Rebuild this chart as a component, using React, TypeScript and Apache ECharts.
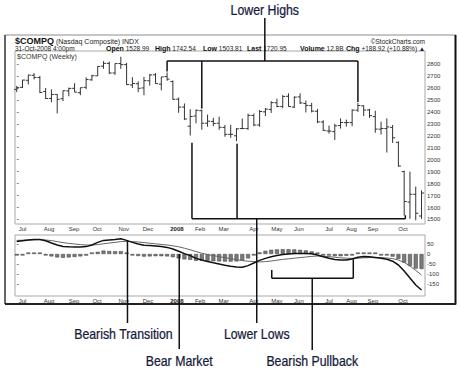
import React, { useEffect, useRef } from "react";
import * as echarts from "echarts";

// ---- Data (weekly bars, Nasdaq Composite, Jun 29 2007 - Oct 31 2008) ----
const weeks = [
  "2007-06-29", "2007-07-06", "2007-07-13", "2007-07-20", "2007-07-27",
  "2007-08-03", "2007-08-10", "2007-08-17", "2007-08-24", "2007-08-31",
  "2007-09-07", "2007-09-14", "2007-09-21", "2007-09-28",
  "2007-10-05", "2007-10-12", "2007-10-19", "2007-10-26",
  "2007-11-02", "2007-11-09", "2007-11-16", "2007-11-23", "2007-11-30",
  "2007-12-07", "2007-12-14", "2007-12-21", "2007-12-28",
  "2008-01-04", "2008-01-11", "2008-01-18", "2008-01-25",
  "2008-02-01", "2008-02-08", "2008-02-15", "2008-02-22", "2008-02-29",
  "2008-03-07", "2008-03-14", "2008-03-20", "2008-03-28",
  "2008-04-04", "2008-04-11", "2008-04-18", "2008-04-25",
  "2008-05-02", "2008-05-09", "2008-05-16", "2008-05-23", "2008-05-30",
  "2008-06-06", "2008-06-13", "2008-06-20", "2008-06-27",
  "2008-07-03", "2008-07-11", "2008-07-18", "2008-07-25",
  "2008-08-01", "2008-08-08", "2008-08-15", "2008-08-22", "2008-08-29",
  "2008-09-05", "2008-09-12", "2008-09-19", "2008-09-26",
  "2008-10-03", "2008-10-10", "2008-10-17", "2008-10-24", "2008-10-31",
];
const openP = [
  2588, 2605, 2664, 2706, 2687, 2570, 2512, 2546, 2510, 2575, 2597, 2560, 2605, 2668,
  2701, 2782, 2805, 2725, 2804, 2795, 2625, 2635, 2600, 2660, 2710, 2632, 2695,
  2653, 2506, 2440, 2280, 2365, 2410, 2305, 2320, 2305, 2270, 2212, 2200, 2260,
  2260, 2370, 2290, 2400, 2420, 2476, 2445, 2530, 2440, 2525, 2470, 2452, 2405,
  2315, 2240, 2235, 2285, 2310, 2310, 2414, 2450, 2416, 2360, 2255, 2260, 2270,
  2145, 1900, 1645, 1710, 1529,
];
const highP = [
  2617, 2668, 2711, 2724, 2701, 2600, 2588, 2548, 2577, 2603, 2640, 2602, 2689, 2710,
  2782, 2824, 2820, 2805, 2861, 2810, 2690, 2655, 2692, 2716, 2724, 2692, 2730,
  2663, 2520, 2470, 2422, 2420, 2420, 2377, 2350, 2360, 2290, 2292, 2265, 2344,
  2385, 2385, 2415, 2432, 2490, 2510, 2540, 2555, 2530, 2555, 2495, 2475, 2425,
  2330, 2285, 2300, 2346, 2335, 2420, 2475, 2455, 2425, 2410, 2318, 2346, 2290,
  2152, 1908, 1900, 1775, 1743,
];
const lowP = [
  2565, 2600, 2629, 2671, 2558, 2508, 2480, 2387, 2490, 2530, 2565, 2540, 2590, 2660,
  2700, 2760, 2715, 2710, 2760, 2625, 2600, 2565, 2539, 2620, 2635, 2580, 2660,
  2502, 2392, 2333, 2202, 2305, 2250, 2275, 2280, 2250, 2192, 2183, 2155, 2255,
  2250, 2280, 2275, 2365, 2391, 2438, 2430, 2444, 2432, 2465, 2395, 2395, 2305,
  2240, 2218, 2165, 2260, 2276, 2280, 2400, 2365, 2350, 2225, 2210, 2060, 2140,
  1941, 1532, 1505, 1493, 1504,
];
const closeP = [
  2603, 2666, 2707, 2688, 2562, 2511, 2545, 2505, 2577, 2596, 2565, 2602, 2671, 2702,
  2780, 2806, 2725, 2804, 2795, 2628, 2637, 2597, 2661, 2709, 2636, 2692, 2674,
  2505, 2440, 2340, 2361, 2413, 2305, 2322, 2303, 2271, 2212, 2212, 2258, 2261,
  2371, 2290, 2403, 2423, 2477, 2445, 2529, 2445, 2523, 2475, 2454, 2406, 2316,
  2245, 2239, 2283, 2311, 2311, 2414, 2453, 2415, 2368, 2256, 2261, 2274, 2183,
  1947, 1650, 1711, 1552, 1721,
];
const macdLine = [
  62, 66, 70, 73, 72, 66, 55, 45, 38, 36, 35, 35, 37, 45,
  58, 68, 70, 72, 76, 68, 58, 50, 44, 42, 40, 37, 33,
  25, 14, 2, -8, -22, -30, -37, -44, -50, -56, -61, -65, -66,
  -58, -45, -32, -22, -14, -8, -3, 0, 2, 3, 3, 1, -5,
  -14, -21, -27, -30, -30, -25, -16, -12, -14, -17, -21, -26, -36,
  -55, -85, -120, -155, -180,
];
const signalLine = [
  68, 69, 70, 71, 72, 70, 67, 62, 57, 53, 50, 47, 45, 45,
  47, 51, 55, 58, 62, 63, 62, 60, 57, 54, 51, 48, 45,
  41, 36, 29, 21, 12, 4, -3, -8, -13, -18, -23, -28, -33,
  -36, -38, -40, -38, -35, -31, -27, -24, -21, -18, -15, -12, -10,
  -11, -13, -16, -19, -21, -22, -21, -19, -18, -18, -18, -20, -23,
  -30, -42, -60, -82, -105,
];
const histogram = [
  -6, -3, 0, 2, 0, -4, -12, -17, -19, -17, -15, -12, -8, 0,
  11, 17, 15, 14, 14, 5, -4, -10, -13, -12, -11, -11, -12,
  -16, -22, -27, -29, -34, -34, -34, -36, -37, -38, -38, -37, -33,
  -22, -7, 8, 16, 21, 23, 24, 24, 23, 21, 18, 13, 5,
  -3, -8, -11, -11, -9, -3, 5, 7, 4, 1, -3, -6, -13,
  -25, -43, -60, -73, -75,
];
const monthLabels = ["Jul", "Aug", "Sep", "Oct", "Nov", "Dec", "2008", "Feb", "Mar", "Apr", "May", "Jun", "Jul", "Aug", "Sep", "Oct"];
const monthTickWeeks = [1, 5.6, 9.9, 13.9, 18.5, 22.7, 27.7, 31.7, 35.8, 41, 45, 48.8, 54, 57.9, 61.6, 66.8];
const priceTicks = [1500, 1600, 1700, 1800, 1900, 2000, 2100, 2200, 2300, 2400, 2500, 2600, 2700, 2800];
const macdTicks = [-150, -100, -50, 0, 50];
const quote = [
  ["Open", "1528.99"], ["High", "1742.54"], ["Low", "1503.81"],
  ["Last", "1720.95"], ["Volume", "12.8B"], ["Chg", "+188.92 (+10.88%) \u25B2"],
];

const FONT = "'Liberation Sans', Arial, sans-serif";
const ANN = "#161a3c";

export default function App() {
  const ref = useRef<HTMLDivElement>(null);

  useEffect(() => {
    const chart = echarts.init(ref.current as HTMLDivElement, null, { renderer: "svg" });

    const ohlc = weeks.map((_, i) => [i, openP[i], highP[i], lowP[i], closeP[i]]);
    const monthFmt = (v: number) => {
      const k = monthTickWeeks.findIndex((m) => Math.abs(m - v) < 1e-6);
      const s = k >= 0 ? monthLabels[k] : "";
      return s === "2008" ? "{b|2008}" : s;
    };
    const xAxisCommon = {
      type: "value" as const,
      min: -0.3,
      max: 70.6,
      axisLine: { show: false },
      axisTick: { show: false },
      splitLine: { show: false },
      axisLabel: {
        customValues: monthTickWeeks,
        formatter: monthFmt,
        fontSize: 6,
        color: "#333",
        margin: 2,
        rich: { b: { fontWeight: "bold", fontSize: 6, color: "#222" } },
      },
    };
    const barStyle = { stroke: "#333", lineWidth: 1 };
    const plain = (v: number) => String(v);

    chart.setOption({
      animation: false,
      textStyle: { fontFamily: FONT },
      grid: [
        { left: 15, top: 51, width: 410, height: 173, show: true, borderColor: "#a8a8a8", borderWidth: 1 },
        { left: 15, top: 235, width: 410, height: 61, show: true, borderColor: "#a8a8a8", borderWidth: 1 },
      ],
      xAxis: [
        { ...xAxisCommon, gridIndex: 0 },
        { ...xAxisCommon, gridIndex: 1 },
      ],
      yAxis: [
        {
          gridIndex: 0, type: "value", position: "right", min: 1462, max: 2909,
          axisLine: { show: false }, splitLine: { show: false },
          axisTick: { show: true, customValues: priceTicks, length: 2, lineStyle: { color: "#888" } },
          axisLabel: { customValues: priceTicks, formatter: plain, fontSize: 6, color: "#333", margin: 2 },
        },
        {
          gridIndex: 1, type: "value", position: "right", min: -210, max: 95,
          axisLine: { show: false }, splitLine: { show: false },
          axisTick: { show: true, customValues: macdTicks, length: 2, lineStyle: { color: "#888" } },
          axisLabel: { customValues: macdTicks, formatter: plain, fontSize: 6, color: "#333", margin: 2 },
        },
      ],
      series: [
        {
          type: "custom",
          name: "$COMPQ",
          xAxisIndex: 0,
          yAxisIndex: 0,
          encode: { x: 0, y: [1, 2, 3, 4] },
          data: ohlc,
          renderItem: (_params: any, api: any) => {
            const i = api.value(0);
            const o = api.coord([i, api.value(1)]);
            const h = api.coord([i, api.value(2)]);
            const l = api.coord([i, api.value(3)]);
            const c = api.coord([i, api.value(4)]);
            return {
              type: "group",
              children: [
                { type: "line", shape: { x1: h[0], y1: h[1], x2: l[0], y2: l[1] }, style: barStyle },
                { type: "line", shape: { x1: o[0] - 2.5, y1: o[1], x2: o[0], y2: o[1] }, style: barStyle },
                { type: "line", shape: { x1: c[0], y1: c[1], x2: c[0] + 2.5, y2: c[1] }, style: barStyle },
              ],
            };
          },
        },
        {
          type: "bar",
          name: "Histogram",
          xAxisIndex: 1,
          yAxisIndex: 1,
          barWidth: 4,
          barMinHeight: 1.5,
          data: histogram.map((v, i) => [i, v]),
          itemStyle: { color: "#7a7a7a", borderColor: "#3c3c3c", borderWidth: 0.5 },
        },
        {
          type: "line",
          name: "Signal",
          xAxisIndex: 1,
          yAxisIndex: 1,
          showSymbol: false,
          data: signalLine.map((v, i) => [i, v]),
          lineStyle: { color: "#666", width: 1 },
        },
        {
          type: "line",
          name: "MACD",
          xAxisIndex: 1,
          yAxisIndex: 1,
          showSymbol: false,
          data: macdLine.map((v, i) => [i, v]),
          lineStyle: { color: "#111", width: 1.5 },
        },
      ],
    });

    const p0 = (i: number, v: number) => chart.convertToPixel({ gridIndex: 0 }, [i, v]) as number[];
    const p1 = (i: number, v: number) => chart.convertToPixel({ gridIndex: 1 }, [i, v]) as number[];
    const ln = (x1: number, y1: number, x2: number, y2: number, stroke = "#111", lineWidth = 1.5) => ({
      type: "line", shape: { x1, y1, x2, y2 }, style: { stroke, lineWidth }, z: 100,
    });
    const ann = (text: string, x: number, y: number) => ({
      type: "text", x, y, z: 100, scaleX: 0.88,
      style: {
        x: 0, y: 0, text, fill: ANN, fontSize: 14, fontFamily: FONT,
        align: "center", verticalAlign: "middle", stroke: ANN, lineWidth: 0.25,
      },
    });
    const small = (text: string, x: number, y: number, extra: any = {}) => ({
      type: "text", x, y, z: 100,
      style: { text, fill: "#222", fontSize: 7, fontFamily: FONT, verticalAlign: "middle", ...extra },
    });

    const g: any[] = [];
    // outer frame
    g.push(ln(5, 35, 456, 35, "#8c8c8c", 1));
    g.push(ln(5, 35, 5, 304, "#333", 1.5));
    g.push(ln(455.5, 35, 455.5, 304.5, "#111", 2));
    g.push(ln(5, 304, 456, 304, "#222", 2));

    // header
    g.push(small("{t|$COMPQ} (Nasdaq Composite) INDX", 15, 41, {
      rich: { t: { fontSize: 9, fontWeight: "bold", fill: "#111", fontFamily: FONT } },
    }));
    g.push(small("31-Oct-2008 4:00pm", 15, 48.5, { fontSize: 6.5 }));
    g.push(small("\u00A9StockCharts.com", 425, 41, { align: "right", fontSize: 6.5 }));
    const qx = [106, 155, 203, 247, 300, 346];
    quote.forEach(([k, v], j) => {
      g.push(small(`{b|${k}} ${v}`, qx[j], 48.5, {
        fontSize: 6.5,
        rich: { b: { fontWeight: "bold", fontSize: 7, fill: "#111", fontFamily: FONT } },
      }));
    });
    g.push(small("$COMPQ (Weekly)", 17, 56, { fontSize: 7, fill: "#333" }));

    // Lower Highs
    const lhLevel = 2825;
    const lhIdx = [26, 32, 59];
    const [lhX1, lhY] = p0(lhIdx[0], lhLevel);
    const lhX2 = p0(lhIdx[2], lhLevel)[0];
    g.push(ln(lhX1, lhY, lhX2, lhY));
    lhIdx.forEach((i) => {
      const [x, y] = p0(i, highP[i]);
      g.push(ln(x, lhY, x, y - 1));
    });
    const lhLabelX = p0(42.9, lhLevel)[0];
    g.push(ln(lhLabelX, 18, lhLabelX, lhY));
    g.push(ann("Lower Highs", lhLabelX, 10));

    // Lower Lows
    const llLevel = 1505;
    const llIdx = [30.3, 38.1, 67.2];
    const llTop = [2142, 2134, 1535];
    const [llX1, llY] = p0(llIdx[0], llLevel);
    const llX2 = p0(llIdx[2], llLevel)[0];
    g.push(ln(llX1, llY, llX2, llY));
    llIdx.forEach((i, k) => {
      const [x, y] = p0(i, llTop[k]);
      g.push(ln(x, y, x, llY));
    });
    const llLabelX = p0(41.5, llLevel)[0];
    g.push(ln(llLabelX, llY, llLabelX, 323));
    g.push(ann("Lower Lows", llLabelX, 334));

    // Bearish Transition
    const [btX, btY] = p1(19.15, 68);
    g.push(ln(btX, btY, btX, 323));
    g.push(ann("Bearish Transition", btX - 4, 334));

    // Bear Market
    const [bmX, bmY] = p1(28.1, 0);
    g.push(ln(bmX, bmY, bmX, 349));
    g.push(ann("Bear Market", bmX, 361));

    // Bearish Pullback
    const bpLevel = -121;
    const [bpX1, bpY] = p1(44.1, bpLevel);
    const bpX2 = p1(58.2, bpLevel)[0];
    g.push(ln(bpX1, bpY, bpX2, bpY));
    g.push(ln(bpX1, p1(44.1, -80)[1], bpX1, bpY));
    g.push(ln(bpX2, p1(58.2, -26)[1], bpX2, bpY));
    const bpLabelX = p1(51.1, bpLevel)[0];
    g.push(ln(bpLabelX, bpY, bpLabelX, 350));
    g.push(ann("Bearish Pullback", bpLabelX, 361));

    chart.setOption({ graphic: g });

    return () => chart.dispose();
  }, []);

  return (
    <div
      ref={ref}
      style={{ position: "fixed", left: 0, top: 0, width: 461, height: 371, background: "#fff" }}
    />
  );
}
